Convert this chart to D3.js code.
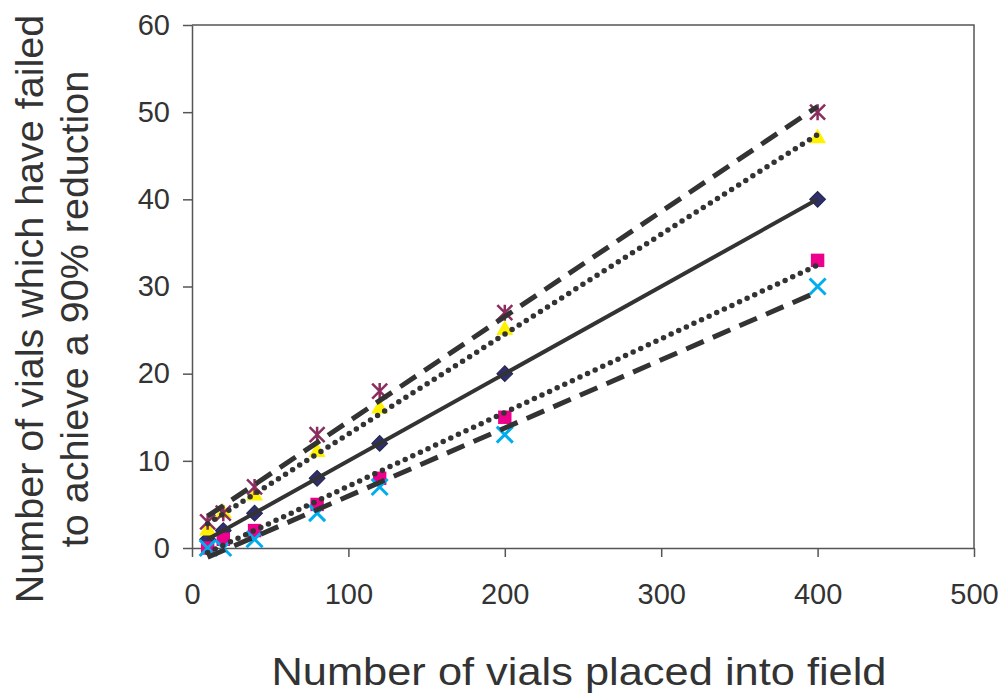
<!DOCTYPE html>
<html>
<head>
<meta charset="utf-8">
<script src="https://cdn.jsdelivr.net/npm/d3@7"></script>
<style>
  html, body { margin: 0; padding: 0; background: #fff; }
  svg { display: block; }
  text { font-family: "Liberation Sans", Arial, sans-serif; fill: #333; }
</style>
</head>
<body>
<div id="chart"></div>
<script>
const vialsPlaced = [10, 20, 40, 80, 120, 200, 400];
const diamondSeries = [1, 2, 4, 8, 12, 20, 40];
const squareSeries = [0, 1, 2, 5, 8, 15, 33];
const triangleSeries = [2, 4, 6, 11, 16, 25, 47];
const crossSeries = [0, 0, 1, 4, 7, 13, 30];
const starSeries = [3, 4, 7, 13, 18, 27, 50];
const xTicks = [0, 100, 200, 300, 400, 500];
const yTicks = [0, 10, 20, 30, 40, 50, 60];

const W = 1006, H = 698;
const plot = { left: 192, right: 974, top: 25, bottom: 548 };
const LINE = '#333333';
const AXIS = '#555555';

const svg = d3.select('#chart').append('svg').attr('width', W).attr('height', H);
const x = d3.scaleLinear().domain([0, 500]).range([plot.left, plot.right]);
const y = d3.scaleLinear().domain([0, 60]).range([plot.bottom, plot.top]);

// frame (top + right)
svg.append('path')
  .attr('d', `M${plot.left},${plot.top}H${plot.right}V${plot.bottom}`)
  .attr('fill', 'none').attr('stroke', AXIS).attr('stroke-width', 1.5);

const gy = svg.append('g').attr('transform', `translate(${plot.left},0)`)
  .call(d3.axisLeft(y).tickValues(yTicks).tickSize(9).tickSizeOuter(0).tickPadding(13));
const gx = svg.append('g').attr('transform', `translate(0,${plot.bottom})`)
  .call(d3.axisBottom(x).tickValues(xTicks).tickSize(9).tickSizeOuter(0).tickPadding(26));
[gy, gx].forEach(g => {
  g.selectAll('.domain, .tick line').attr('stroke', AXIS).attr('stroke-width', 1.5);
  g.selectAll('text').attr('font-size', 29).attr('fill', '#333')
    .attr('font-family', '"Liberation Sans", Arial, sans-serif');
});

function fit(xs, ys) {
  const mx = d3.mean(xs), my = d3.mean(ys);
  const sxy = d3.sum(xs, (v, i) => (v - mx) * (ys[i] - my));
  const sxx = d3.sum(xs, v => (v - mx) * (v - mx));
  const b = sxy / sxx;
  return { b, a: my - b * mx };
}

const markers = svg.append('g');
const lines = svg.append('g');

function points(values, draw) {
  values.forEach((v, i) => draw(markers.append('g')
    .attr('transform', `translate(${x(vialsPlaced[i])},${y(v)})`)));
}

function trend(values, style) {
  const f = fit(vialsPlaced, values);
  const x0 = d3.min(vialsPlaced), x1 = d3.max(vialsPlaced);
  const p = lines.append('line')
    .attr('x1', x(x0)).attr('y1', y(f.a + f.b * x0))
    .attr('x2', x(x1)).attr('y2', y(f.a + f.b * x1))
    .attr('stroke', LINE);
  if (style === 'solid') p.attr('stroke-width', 4);
  if (style === 'dot') p.attr('stroke-width', 5.5).attr('stroke-linecap', 'round').attr('stroke-dasharray', '0 8.4');
  if (style === 'dash') p.attr('stroke-width', 5).attr('stroke-dasharray', '19 10');
}

points(diamondSeries, g => g.append('path')
  .attr('d', d3.symbol(d3.symbolSquare, 125)()).attr('transform', 'rotate(45)')
  .attr('fill', '#2e2f6c').attr('stroke', '#23244f').attr('stroke-width', 1));
points(squareSeries, g => g.append('path')
  .attr('d', d3.symbol(d3.symbolSquare, 180)()).attr('fill', '#ec008c'));
points(triangleSeries, g => g.append('path')
  .attr('d', d3.symbol(d3.symbolTriangle, 125)()).attr('fill', '#fff200'));
points(crossSeries, g => g.append('path')
  .attr('d', 'M-8,-8L8,8M-8,8L8,-8').attr('stroke', '#00aeef').attr('stroke-width', 3).attr('fill', 'none'));
points(starSeries, g => g.append('path')
  .attr('d', 'M-7.5,-7.5L7.5,7.5M-7.5,7.5L7.5,-7.5M0,-8V8').attr('stroke', '#8c2d60').attr('stroke-width', 2.5).attr('fill', 'none'));

trend(diamondSeries, 'solid');
trend(squareSeries, 'dot');
trend(triangleSeries, 'dot');
trend(crossSeries, 'dash');
trend(starSeries, 'dash');

svg.append('text')
  .attr('x', 579).attr('y', 685).attr('text-anchor', 'middle').attr('font-size', 38)
  .attr('textLength', 615).attr('lengthAdjust', 'spacingAndGlyphs')
  .text('Number of vials placed into field');

const yTitle = svg.append('text')
  .attr('transform', 'translate(43,309) rotate(-90)')
  .attr('text-anchor', 'middle').attr('font-size', 39.5);
yTitle.append('tspan').attr('x', 0).attr('y', 0).text('Number of vials which have failed');
yTitle.append('tspan').attr('x', 0).attr('y', 45).text('to achieve a 90% reduction');
</script>
</body>
</html>
